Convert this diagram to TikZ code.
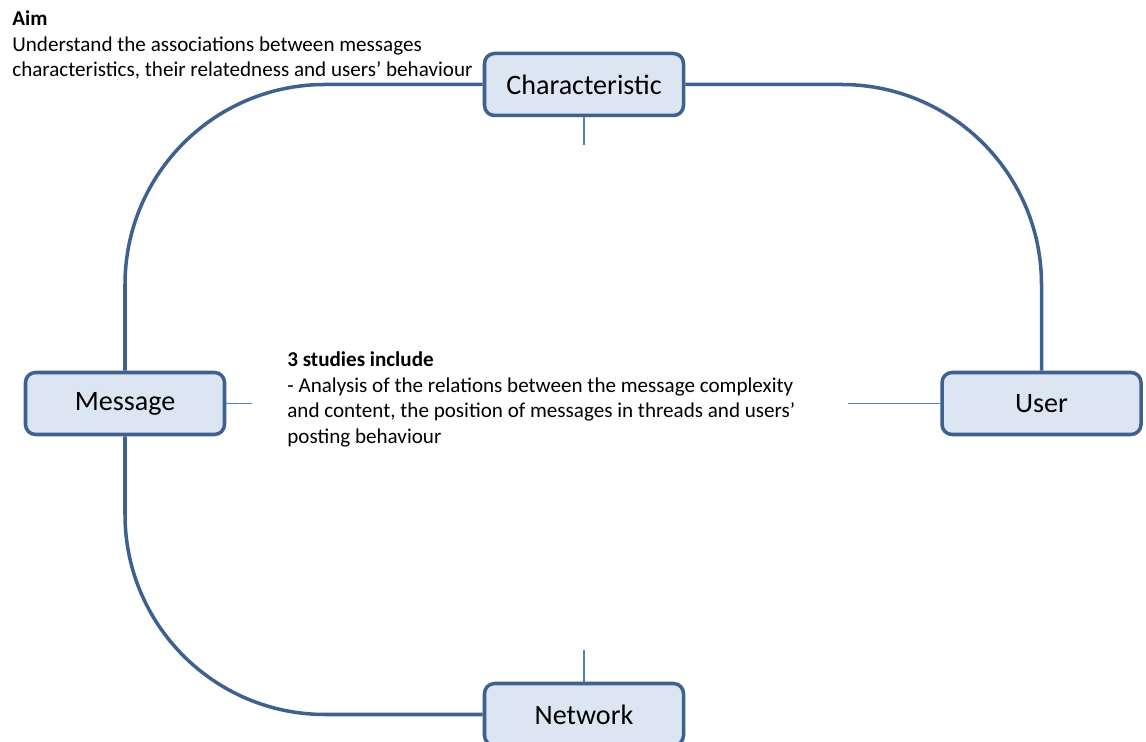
\documentclass[tikz,border=0pt]{standalone}
\usepackage{fontspec}
\setmainfont{Carlito}
\usetikzlibrary{positioning}

\definecolor{linkblue}{HTML}{3F6190}
\definecolor{stubblue}{HTML}{4F81BD}
\definecolor{boxfill}{HTML}{DCE6F2}

\begin{document}
\begin{tikzpicture}[
	topic/.style={shape=rectangle, draw=linkblue, fill=boxfill, line width=2pt, rounded corners=0.2cm, minimum width=3.98cm, minimum height=1.24cm, font=\fontsize{16}{19}\selectfont},
	link/.style={draw=linkblue, line width=2pt, rounded corners=4cm},
	stub/.style={draw=stubblue, line width=0.8pt},
	note/.style={anchor=north west, align=left, inner sep=0pt, font=\fontsize{12}{14.6}\selectfont}]
	\useasboundingbox (0, 0) rectangle (22.92, 14.84);
	% Boxes:
	\node[topic] (characteristic) at (11.68, 13.15) {Characteristic};
	\node[topic] (message) at (2.5, 6.77) {Message};
	\node[topic] (user) at (20.83, 6.77) {User};
	\node[topic] (network) at (11.68, 0.55) {Network};
	% Texts:
	\node[note] (aim) at (0.24, 14.63) {\textbf{Aim}\\Understand the associations between messages\\characteristics, their relatedness and users’ behaviour};
	\node[note] (studies) at (5.74, 7.81) {\textbf{3 studies include}\\- Analysis of the relations between the message complexity\\and content, the position of messages in threads and users’\\posting behaviour};
	% Wires:
	\draw[link] (characteristic.west) -| (message.north);
	\draw[link] (characteristic.east) -| (user.north);
	\draw[link] (message.south) |- (network.west);
	\coordinate (charend) at (11.68, 11.94);
	\coordinate (netend) at (11.68, 1.84);
	\coordinate (msgend) at (5.04, 6.77);
	\coordinate (userend) at (16.96, 6.77);
	\draw[stub] (characteristic.south) -- (charend);
	\draw[stub] (network.north) -- (netend);
	\draw[stub] (message.east) -- (msgend);
	\draw[stub] (user.west) -- (userend);
\end{tikzpicture}
\end{document}
